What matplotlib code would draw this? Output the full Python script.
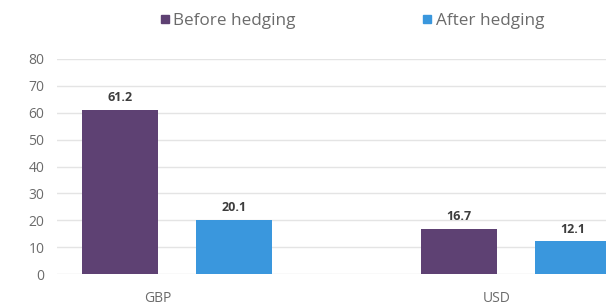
import matplotlib
matplotlib.use("Agg")
import matplotlib.pyplot as plt
from matplotlib.lines import Line2D
import numpy as np

categories = ["GBP", "USD"]
series_names = ["Before hedging", "After hedging"]
before = [61.2, 16.7]
after = [20.1, 12.1]
yticks = [0, 10, 20, 30, 40, 50, 60, 70, 80]

purple = "#5e4173"
blue = "#3a97dd"
text_gray = "#6b6b6b"

plt.rcParams["font.family"] = ["Open Sans", "DejaVu Sans"]

W, H = 606, 305
fig = plt.figure(figsize=(W / 100, H / 100), dpi=100)
left_px, right_px = 57, 606
bottom_px, top_px = 274, 59
ax = fig.add_axes([left_px / W, (H - bottom_px) / H, (right_px - left_px) / W, (bottom_px - top_px) / H])

x = np.arange(len(categories))
unit = 339.0
w = 76 / unit
b1 = ax.bar(x - 0.5 * w, before, width=w, color=purple, zorder=3)
b2 = ax.bar(x + 1.0 * w, after, width=w, color=blue, zorder=3)

for bars, vals in ((b1, before), (b2, after)):
    for r, v in zip(bars, vals):
        ax.text(r.get_x() + r.get_width() / 2, v + 2.2, f"{v:.1f}", ha="center", va="bottom",
                fontsize=9, fontweight="bold", color="#3d3d3d", zorder=4)

ax.set_xlim((left_px - 158) / unit, (right_px - 158) / unit)
ax.set_ylim(0, 80)
ax.set_yticks(yticks)
ax.set_yticklabels([str(t) for t in yticks], color=text_gray, fontsize=10)
ax.set_xticks(x)
ax.set_xticklabels(categories, color=text_gray, fontsize=10)
ax.tick_params(axis="y", length=0, pad=9)
ax.tick_params(axis="x", length=0, pad=12)
ax.grid(axis="y", color="#e4e4e4", linewidth=1, zorder=0)
for s in ax.spines.values():
    s.set_visible(False)

handles = [Line2D([0], [0], marker="s", linestyle="", color=purple, markersize=6),
           Line2D([0], [0], marker="s", linestyle="", color=blue, markersize=6)]
fig.legend(handles, series_names, loc="center", bbox_to_anchor=(351 / W, 1 - 21 / H), ncol=2,
           frameon=False, fontsize=12.3, handletextpad=0.1, columnspacing=7.3,
           handlelength=0.8, labelcolor=text_gray)

fig.savefig("out.png", dpi=100)
